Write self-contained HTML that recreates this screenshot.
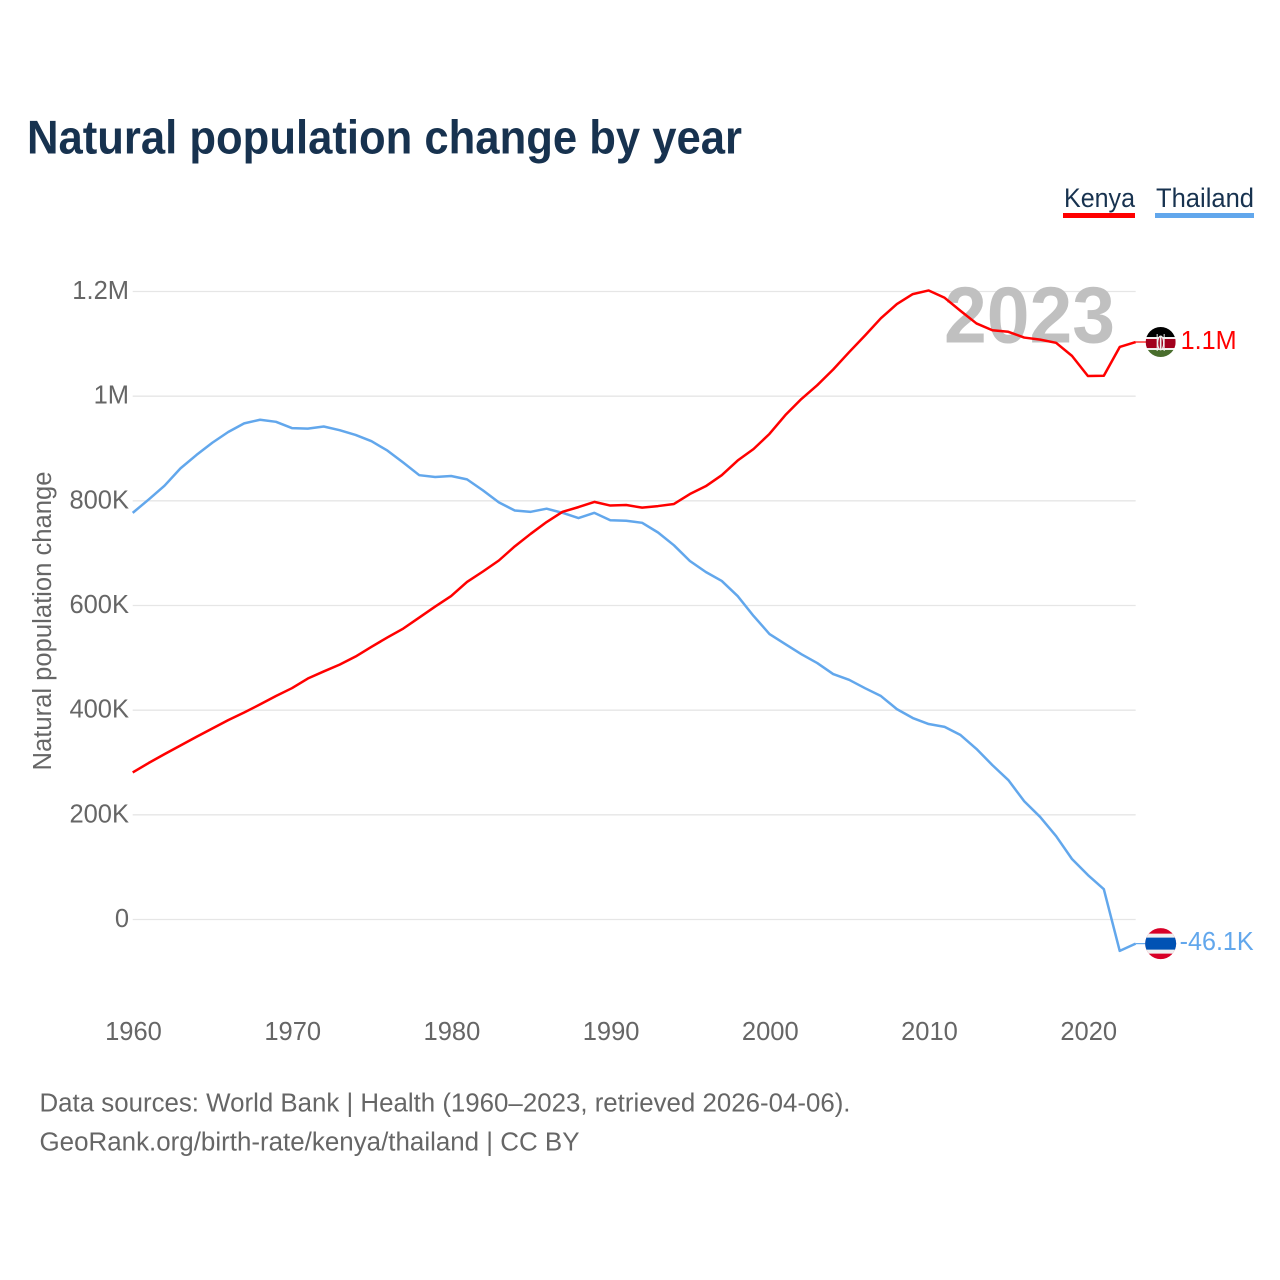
<!DOCTYPE html>
<html lang="en">
<head>
<meta charset="utf-8">
<title>Natural population change by year</title>
<style>
html,body{margin:0;padding:0;background:#fff;}
svg{display:block;}
text{font-family:"Liberation Sans",sans-serif;}
</style>
</head>
<body>
<svg id="chart" xmlns="http://www.w3.org/2000/svg" width="1280" height="1280" viewBox="0 0 1280 1280">
  <rect x="0" y="0" width="1280" height="1280" fill="#ffffff"/>
  <text x="27" y="153.5" font-size="47.5" font-weight="700" fill="#17324f" textLength="715" lengthAdjust="spacingAndGlyphs">Natural population change by year</text>

  <g>
    <g>
      <text x="1064" y="207" font-size="27" fill="#17324f" textLength="71" lengthAdjust="spacingAndGlyphs">Kenya</text>
      <rect x="1063" y="213" width="72" height="5" fill="#ff0000"/>
    </g>
    <g>
      <text x="1156" y="207" font-size="27" fill="#17324f" textLength="98" lengthAdjust="spacingAndGlyphs">Thailand</text>
      <rect x="1155" y="213" width="99" height="5" fill="#62a7ec"/>
    </g>
  </g>

  <g id="grid"></g>
  <text id="yearLabel" x="1115" y="342.5" font-size="80" font-weight="700" fill="#c0c0c0" text-anchor="end" textLength="171" lengthAdjust="spacingAndGlyphs">2023</text>
  <g id="yTicks"></g>
  <g id="xTicks"></g>
  <text transform="translate(51,621) rotate(-90)" font-size="25.5" fill="#666666" text-anchor="middle" textLength="299" lengthAdjust="spacingAndGlyphs">Natural population change</text>
  <g id="series"></g>

  <g id="kenyaMarker">
    <clipPath id="kenyaClip"><circle cx="0" cy="0" r="15"/></clipPath>
    <g clip-path="url(#kenyaClip)">
      <rect x="-15" y="-15" width="30" height="10" fill="#000000"/>
      <rect x="-15" y="-5" width="30" height="2" fill="#f0f0f0"/>
      <rect x="-15" y="-3" width="30" height="9" fill="#a2001d"/>
      <rect x="-15" y="6" width="30" height="2" fill="#f0f0f0"/>
      <rect x="-15" y="8" width="30" height="7" fill="#496e2d"/>
      <ellipse cx="0" cy="1" rx="3.6" ry="7.5" fill="#f0f0f0"/>
      <ellipse cx="0" cy="1" rx="2.4" ry="6" fill="#a2001d"/>
      <rect x="-0.8" y="-5" width="1.6" height="12" fill="#f0f0f0"/>
      <rect x="-4" y="-8" width="1" height="17" fill="#f0f0f0"/>
      <rect x="3" y="-8" width="1" height="17" fill="#f0f0f0"/>
    </g>
    <text id="kenyaValue" x="20" y="7" font-size="25.5" fill="#ff0000" textLength="56" lengthAdjust="spacingAndGlyphs">1.1M</text>
  </g>

  <g id="thailandMarker">
    <clipPath id="thailandClip"><circle cx="0" cy="0" r="15.5"/></clipPath>
    <g clip-path="url(#thailandClip)">
      <rect x="-16" y="-16" width="32" height="32" fill="#d80027"/>
      <rect x="-16" y="-10" width="32" height="20" fill="#f0f0f0"/>
      <rect x="-16" y="-6" width="32" height="12" fill="#0052b4"/>
    </g>
    <text id="thailandValue" x="19" y="6.5" font-size="25.5" fill="#62a7ec" textLength="74" lengthAdjust="spacingAndGlyphs">-46.1K</text>
  </g>

  <text x="39.5" y="1111.5" font-size="25.5" fill="#666666" textLength="811" lengthAdjust="spacingAndGlyphs">Data sources: World Bank | Health (1960–2023, retrieved 2026-04-06).</text>
  <text x="39.5" y="1150.5" font-size="25.5" fill="#666666" textLength="540" lengthAdjust="spacingAndGlyphs">GeoRank.org/birth-rate/kenya/thailand | CC BY</text>
</svg>
<script>
const startYear = 1960;
const xTickYears = [1960, 1970, 1980, 1990, 2000, 2010, 2020];
const yTickValues = [0, 200, 400, 600, 800, 1000, 1200];
const yTickLabels = ["0", "200K", "400K", "600K", "800K", "1M", "1.2M"];
const kenyaValues = [281, 299, 316, 332.5, 349, 365, 381, 395.5, 411, 427, 442, 460.5, 474, 487, 502.5, 521, 539, 556, 577, 598, 618, 645, 665, 686, 713, 737, 759.5, 779, 788, 798, 791, 792, 787, 790, 794, 813, 828, 849, 877, 899, 928, 964, 994.5, 1021, 1051, 1084, 1116, 1149, 1176, 1195, 1202, 1188, 1163, 1139, 1126, 1123, 1112, 1108, 1102, 1077, 1038.5, 1039, 1094, 1103.5];
const thailandValues = [777, 802.5, 829, 862, 887.5, 911, 931.5, 948, 955, 951, 939, 938, 942, 935, 926, 914, 896, 873, 849, 845.5, 847.5, 841, 820, 797, 781.5, 779, 785, 777, 767, 777, 763, 762, 758, 739.5, 715, 685, 664, 647, 618, 580, 545.5, 526, 507, 490, 469, 458, 442, 427, 402, 385, 373.5, 368, 352.5, 326, 295, 266.5, 226, 196, 159.5, 115.6, 85, 58, -60, -46.1];

const NS = "http://www.w3.org/2000/svg";
const X0 = 132.7, PX_PER_YEAR = 15.92;
const Y0 = 919.5, PX_PER_K = 0.52333;
const xScale = function (year) { return X0 + (year - startYear) * PX_PER_YEAR; };
const yScale = function (value) { return Y0 - value * PX_PER_K; };
const lastYear = startYear + kenyaValues.length - 1;
const plotRight = xScale(lastYear);

const grid = document.getElementById("grid");
const yTicks = document.getElementById("yTicks");
const xTicks = document.getElementById("xTicks");
const series = document.getElementById("series");

yTickValues.forEach(function (v, i) {
  const line = document.createElementNS(NS, "line");
  
  
  line.setAttribute("x1", X0);
  line.setAttribute("x2", plotRight);
  line.setAttribute("y1", yScale(v));
  line.setAttribute("y2", yScale(v));
  line.setAttribute("stroke", "#e6e6e6");
  line.setAttribute("stroke-width", "1.3");
  grid.appendChild(line);

  const label = document.createElementNS(NS, "text");
  
  
  label.setAttribute("x", 129);
  label.setAttribute("y", yScale(v) + 7.5);
  label.setAttribute("font-size", "25.5");
  label.setAttribute("fill", "#666666");
  label.setAttribute("text-anchor", "end");
  label.textContent = yTickLabels[i];
  yTicks.appendChild(label);
});

xTickYears.forEach(function (year) {
  const label = document.createElementNS(NS, "text");
  
  
  label.setAttribute("x", xScale(year) + 0.8);
  label.setAttribute("y", 1040);
  label.setAttribute("font-size", "25.5");
  label.setAttribute("fill", "#666666");
  label.setAttribute("text-anchor", "middle");
  label.textContent = String(year);
  xTicks.appendChild(label);
});

function linePoints(values) {
  return values.map(function (v, i) {
    return xScale(startYear + i).toFixed(2) + "," + yScale(v).toFixed(2);
  }).join(" ");
}

const thailandLine = document.createElementNS(NS, "polyline");


thailandLine.setAttribute("points", linePoints(thailandValues));
thailandLine.setAttribute("fill", "none");
thailandLine.setAttribute("stroke", "#62a7ec");
thailandLine.setAttribute("stroke-width", "2.5");
thailandLine.setAttribute("stroke-linejoin", "round");
series.appendChild(thailandLine);

const kenyaLine = document.createElementNS(NS, "polyline");


kenyaLine.setAttribute("points", linePoints(kenyaValues));
kenyaLine.setAttribute("fill", "none");
kenyaLine.setAttribute("stroke", "#ff0000");
kenyaLine.setAttribute("stroke-width", "2.5");
kenyaLine.setAttribute("stroke-linejoin", "round");
series.appendChild(kenyaLine);

const kenyaConnector = document.createElementNS(NS, "line");


kenyaConnector.setAttribute("x1", plotRight);
kenyaConnector.setAttribute("x2", plotRight + 12);
kenyaConnector.setAttribute("y1", yScale(kenyaValues[kenyaValues.length - 1]));
kenyaConnector.setAttribute("y2", yScale(kenyaValues[kenyaValues.length - 1]));
kenyaConnector.setAttribute("stroke", "#ff0000");
kenyaConnector.setAttribute("stroke-width", "1.2");
series.appendChild(kenyaConnector);

const thailandConnector = document.createElementNS(NS, "line");


thailandConnector.setAttribute("x1", plotRight);
thailandConnector.setAttribute("x2", plotRight + 12);
thailandConnector.setAttribute("y1", yScale(thailandValues[thailandValues.length - 1]));
thailandConnector.setAttribute("y2", yScale(thailandValues[thailandValues.length - 1]));
thailandConnector.setAttribute("stroke", "#62a7ec");
thailandConnector.setAttribute("stroke-width", "1.2");
series.appendChild(thailandConnector);

document.getElementById("kenyaMarker").setAttribute("transform",
  "translate(" + (plotRight + 25) + "," + yScale(kenyaValues[kenyaValues.length - 1]) + ")");
document.getElementById("thailandMarker").setAttribute("transform",
  "translate(" + (plotRight + 25) + "," + yScale(thailandValues[thailandValues.length - 1]) + ")");
</script>
</body>
</html>
